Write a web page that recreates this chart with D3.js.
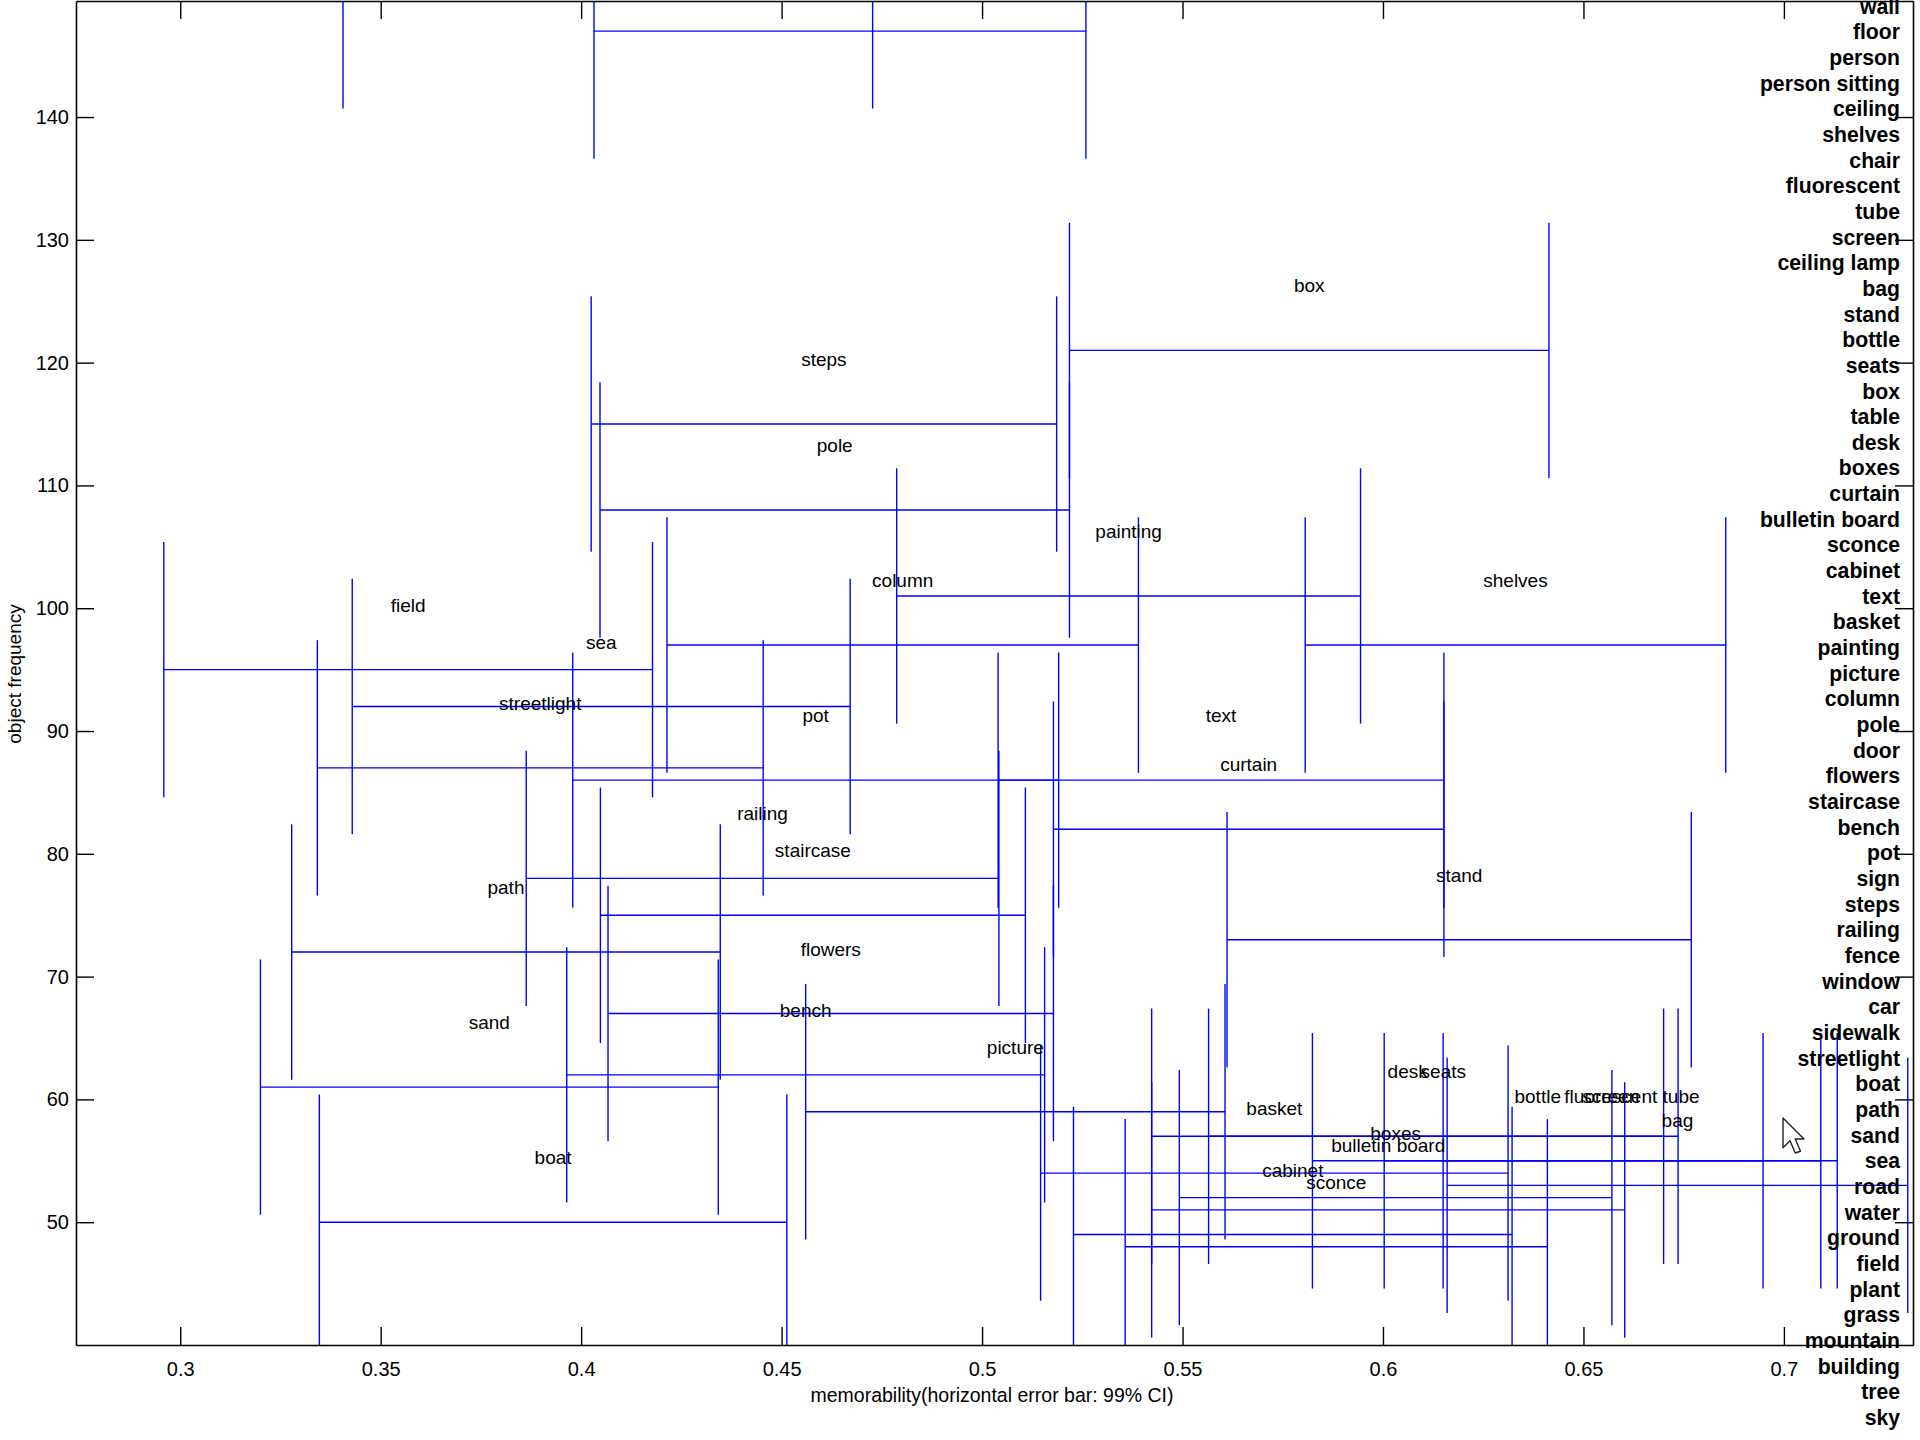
<!DOCTYPE html>
<html>
<head>
<meta charset="utf-8">
<script src="https://cdn.jsdelivr.net/npm/d3@7"></script>
<style>
  html, body { margin: 0; padding: 0; background: #fff; }
  svg { display: block; }
</style>
</head>
<body>
<svg id="chart" width="1920" height="1440"></svg>
<script>
// ---- data ---------------------------------------------------------------
// Objects with their frequency and the 99% CI of memorability (low / high end).
const objects = ["door", "car", "box", "steps", "pole", "painting", "column", "shelves",
  "field", "sea", "streetlight", "pot", "text", "curtain", "railing", "staircase",
  "stand", "path", "flowers", "bench", "sand", "picture", "desk", "seats",
  "bottle", "screen", "fluorescent tube", "basket", "bag", "boxes",
  "bulletin board", "boat", "cabinet", "sconce"];

const frequency = [147, 151.1, 121, 115, 108, 101, 97, 97,
  95, 92, 87, 86, 86, 82, 78, 75,
  73, 72, 67, 62, 61, 59, 57, 57,
  55, 55, 55, 54, 53, 52,
  51, 50, 49, 48];

const ciLow = [0.4032, 0.3406, 0.5218, 0.4025, 0.4047, 0.4787, 0.4214, 0.5806,
  0.2959, 0.3429, 0.3342, 0.3979, 0.5040, 0.5178, 0.3863, 0.4048,
  0.5611, 0.3278, 0.4067, 0.3964, 0.3200, 0.4560, 0.5423, 0.5565,
  0.5824, 0.6003, 0.6150, 0.5146, 0.6160, 0.5492,
  0.5423, 0.3347, 0.5228, 0.5357];

const ciHigh = [0.5259, 0.4727, 0.6414, 0.5186, 0.5218, 0.5944, 0.5390, 0.6855,
  0.4178, 0.4671, 0.4454, 0.5191, 0.6152, 0.6152, 0.5042, 0.5108,
  0.6769, 0.4347, 0.5178, 0.5156, 0.4342, 0.5606, 0.6700, 0.6736,
  0.6948, 0.7133, 0.7092, 0.6312, 0.7309, 0.6571,
  0.6603, 0.4513, 0.6322, 0.6410];

// Object list printed down the right-hand side.
const objectList = ["wall", "floor", "person", "person sitting", "ceiling", "shelves", "chair",
  "fluorescent ", "tube", "screen", "ceiling lamp", "bag", "stand", "bottle", "seats",
  "box", "table", "desk", "boxes", "curtain", "bulletin board", "sconce", "cabinet",
  "text", "basket", "painting", "picture", "column", "pole", "door", "flowers",
  "staircase", "bench", "pot", "sign", "steps", "railing", "fence", "window", "car",
  "sidewalk", "streetlight", "boat", "path", "sand", "sea", "road", "water", "ground",
  "field", "plant", "grass", "mountain", "building", "tree", "sky"];

const xTicks = [0.3, 0.35, 0.4, 0.45, 0.5, 0.55, 0.6, 0.65, 0.7];
const xTickLabels = ["0.3", "0.35", "0.4", "0.45", "0.5", "0.55", "0.6", "0.65", "0.7"];
const yTicks = [50, 60, 70, 80, 90, 100, 110, 120, 130, 140];
const yTickLabels = ["50", "60", "70", "80", "90", "100", "110", "120", "130", "140"];

// ---- layout -------------------------------------------------------------
const FONT = '"Liberation Sans", Arial, Helvetica, sans-serif';
const plot = { left: 76, right: 1913, top: 1, bottom: 1345 };
const capHalf = 10.4;     // half height of the end caps, in frequency units
const labelLift = 5;      // labels sit this far above their bar

const x = d3.scaleLinear().domain([0.274, 0.7322]).range([plot.left, plot.right]);
const y = d3.scaleLinear().domain([40, 149.45]).range([plot.bottom, plot.top]);

const svg = d3.select("#chart").attr("font-family", FONT);
svg.append("rect").attr("width", 1920).attr("height", 1440).attr("fill", "#fff");

svg.append("defs").append("clipPath").attr("id", "plot-clip")
  .append("rect")
  .attr("x", plot.left).attr("y", plot.top)
  .attr("width", plot.right - plot.left).attr("height", plot.bottom - plot.top);

const rows = objects.map((name, i) => ({
  name, freq: frequency[i], lo: ciLow[i], hi: ciHigh[i]
}));

// ---- error bars ---------------------------------------------------------
const bars = svg.append("g")
  .attr("clip-path", "url(#plot-clip)")
  .attr("stroke", "#0000ff")
  .attr("stroke-width", 1.4)
  .attr("fill", "none");

const bar = bars.selectAll("g.bar").data(rows).join("g").attr("class", "bar");
bar.append("line")
  .attr("x1", d => x(d.lo)).attr("x2", d => x(d.hi))
  .attr("y1", d => y(d.freq)).attr("y2", d => y(d.freq));
bar.append("line")
  .attr("x1", d => x(d.lo)).attr("x2", d => x(d.lo))
  .attr("y1", d => y(d.freq - capHalf)).attr("y2", d => y(d.freq + capHalf));
bar.append("line")
  .attr("x1", d => x(d.hi)).attr("x2", d => x(d.hi))
  .attr("y1", d => y(d.freq - capHalf)).attr("y2", d => y(d.freq + capHalf));

// ---- object labels at the interval centres -----------------------------
svg.append("g")
  .attr("font-size", 19)
  .attr("fill", "#000")
  .attr("text-anchor", "middle")
  .selectAll("text")
  .data(rows.filter(d => d.freq + labelLift < y.domain()[1]))
  .join("text")
  .attr("x", d => x((d.lo + d.hi) / 2))
  .attr("y", d => y(d.freq + labelLift))
  .attr("dy", "-0.16em")
  .attr("dominant-baseline", "central")
  .text(d => d.name);

// ---- axes (ticks point inwards on all four sides) ----------------------
function styleAxis(g, size) {
  g.attr("font-family", FONT).attr("font-size", size);
  g.selectAll("path.domain").attr("stroke", "#000").attr("stroke-width", 1.6);
  g.selectAll(".tick line").attr("stroke", "#000").attr("stroke-width", 1.4);
  g.selectAll(".tick text").attr("fill", "#000");
}

svg.append("g")
  .attr("transform", `translate(0,${plot.bottom})`)
  .call(d3.axisBottom(x).tickValues(xTicks).tickFormat((d, i) => xTickLabels[i])
    .tickSizeInner(-18).tickSizeOuter(0).tickPadding(17))
  .call(g => styleAxis(g, 20));

svg.append("g")
  .attr("transform", `translate(0,${plot.top})`)
  .call(d3.axisTop(x).tickValues(xTicks).tickFormat(() => "")
    .tickSizeInner(-18).tickSizeOuter(0))
  .call(g => styleAxis(g, 20));

svg.append("g")
  .attr("transform", `translate(${plot.left},0)`)
  .call(d3.axisLeft(y).tickValues(yTicks).tickFormat((d, i) => yTickLabels[i])
    .tickSizeInner(-18).tickSizeOuter(0).tickPadding(7))
  .call(g => styleAxis(g, 20));

svg.append("g")
  .attr("transform", `translate(${plot.right},0)`)
  .call(d3.axisRight(y).tickValues(yTicks).tickFormat(() => "")
    .tickSizeInner(-18).tickSizeOuter(0))
  .call(g => styleAxis(g, 20));

// ---- axis titles --------------------------------------------------------
svg.append("text")
  .attr("x", 992).attr("y", 1402)
  .attr("text-anchor", "middle")
  .attr("font-size", 19.5)
  .attr("fill", "#000")
  .text("memorability(horizontal error bar: 99% CI)");

svg.append("text")
  .attr("transform", "translate(21,674) rotate(-90)")
  .attr("text-anchor", "middle")
  .attr("font-size", 19)
  .attr("fill", "#000")
  .text("object frequency");

// ---- object list on the right ------------------------------------------
svg.append("g")
  .attr("font-size", 21.2)
  .attr("font-weight", "bold")
  .attr("fill", "#000")
  .attr("text-anchor", "end")
  .style("white-space", "pre")
  .selectAll("text")
  .data(objectList)
  .join("text")
  .attr("x", 1900)
  .attr("y", (d, i) => 13.6 + i * 25.66)
  .text(d => d);

// ---- mouse pointer left on the canvas ----------------------------------
svg.append("path")
  .attr("transform", "translate(1783,1118) scale(1.75)")
  .attr("d", "M0,0 L0,17 L4,13 L7,20 L10,19 L7,12 L12,12 Z")
  .attr("fill", "#fff")
  .attr("stroke", "#222")
  .attr("stroke-width", 0.8)
  .attr("stroke-linejoin", "round");
</script>
</body>
</html>
